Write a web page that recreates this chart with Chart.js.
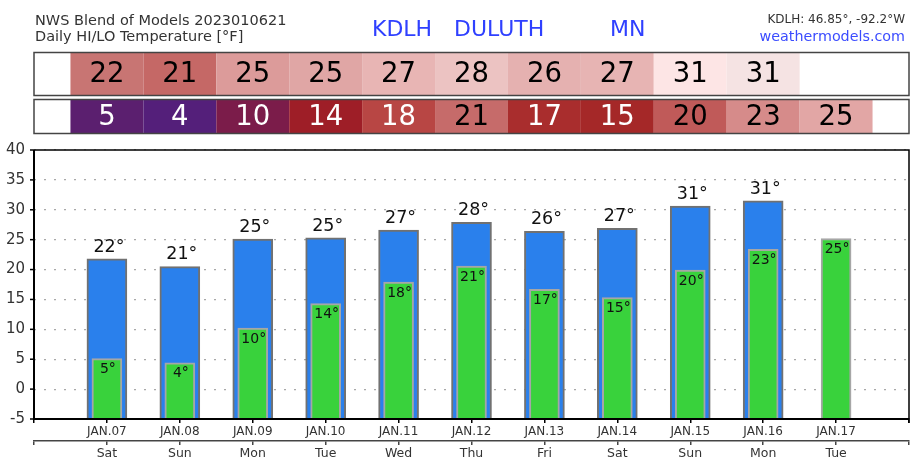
<!DOCTYPE html>
<html>
<head>
<meta charset="utf-8">
<title>NWS Blend of Models - KDLH</title>
<script src="https://cdn.jsdelivr.net/npm/chart.js@4"></script>
<style>
  body { margin: 0; background: #fff; }
  #contenedor { position: relative; width: 919px; height: 466px; font-family: "DejaVu Sans", sans-serif; }
  canvas { position: absolute; left: 0; top: 0; }
  .texto { position: absolute; white-space: nowrap; line-height: 1.164; }
</style>
</head>
<body>
<div id="contenedor">
  <canvas id="graficoTemp" width="919" height="466"></canvas>
  <div class="texto" style="left:35px;top:12px;font-size:14.5px;color:#333">NWS Blend of Models 2023010621</div>
  <div class="texto" style="left:35px;top:28px;font-size:14.5px;color:#333">Daily HI/LO Temperature [°F]</div>
  <div class="texto" style="left:372px;top:15.5px;font-size:22px;color:#2f40ff">KDLH</div>
  <div class="texto" style="left:454px;top:15.5px;font-size:22px;color:#2f40ff">DULUTH</div>
  <div class="texto" style="left:610px;top:15.5px;font-size:22px;color:#2f40ff">MN</div>
  <div class="texto" style="right:14px;top:12.5px;font-size:12px;color:#333">KDLH: 46.85°, -92.2°W</div>
  <div class="texto" style="right:14px;top:27.5px;font-size:14.3px;color:#3b4cff">weathermodels.com</div>
</div>
<script>
// Datos
const fechas = ['JAN.07', 'JAN.08', 'JAN.09', 'JAN.10', 'JAN.11', 'JAN.12', 'JAN.13', 'JAN.14', 'JAN.15', 'JAN.16', 'JAN.17'];
const dias = ['Sat', 'Sun', 'Mon', 'Tue', 'Wed', 'Thu', 'Fri', 'Sat', 'Sun', 'Mon', 'Tue'];

// Alturas de las barras (valores sin redondear)
const maximas = [21.8, 20.5, 25.1, 25.3, 26.6, 27.9, 26.4, 26.9, 30.6, 31.5, null];
const minimas = [5.1, 4.4, 10.2, 14.3, 17.9, 20.6, 16.7, 15.3, 19.9, 23.4, 25.2];

// Valores redondeados que se muestran en la tabla y en las etiquetas
const etiquetasMax = [22, 21, 25, 25, 27, 28, 26, 27, 31, 31, null];
const etiquetasMin = [5, 4, 10, 14, 18, 21, 17, 15, 20, 23, 25];

// Colores de las celdas de la tabla
const coloresMax = ['#c87573', '#c56866', '#dc9b9a', '#e0a6a5', '#e8b5b4', '#ecc3c2', '#e5b1b0', '#e7b4b3', '#fde5e5', '#f5e3e3', null];
const coloresMin = ['#5b1f6f', '#541f7a', '#7b1c4a', '#9e1e27', '#b84644', '#c66b6a', '#a92d2d', '#a52828', '#c05a59', '#d68b8a', '#e2a6a5'];
const textoMin = ['#fff', '#fff', '#fff', '#fff', '#fff', '#000', '#fff', '#fff', '#000', '#000', '#000'];

const fuente = '"DejaVu Sans", sans-serif';

// Se deja un hueco vacío a cada lado del eje
const conBordes = arr => [null, ...arr, null];
const conBordesTexto = arr => ['', ...arr, ''];

// Tabla de colores HI/LO alineada con el eje x
const tablaColores = {
  id: 'tablaColores',
  afterDraw(chart) {
    const { ctx, scales: { x }, chartArea } = chart;
    const mitad = (x.getPixelForValue(1) - x.getPixelForValue(0)) / 2;
    const filas = [
      { y: 52.5, h: 43, valores: etiquetasMax, fondos: coloresMax, textos: null },
      { y: 99.5, h: 34, valores: etiquetasMin, fondos: coloresMin, textos: textoMin }
    ];
    ctx.save();
    filas.forEach(fila => {
      fila.valores.forEach((v, i) => {
        if (v === null) return;
        const cx = x.getPixelForValue(i + 1);
        ctx.fillStyle = fila.fondos[i];
        ctx.fillRect(cx - mitad, fila.y, mitad * 2, fila.h);
        ctx.fillStyle = fila.textos ? fila.textos[i] : '#000';
        ctx.font = '27.5px ' + fuente;
        ctx.textAlign = 'center';
        ctx.textBaseline = 'middle';
        ctx.fillText(String(v), cx, fila.y + fila.h / 2 + 1);
      });
      ctx.strokeStyle = '#444';
      ctx.lineWidth = 1.5;
      ctx.strokeRect(chartArea.left, fila.y, chartArea.right - chartArea.left, fila.h);
    });
    ctx.restore();
  }
};

// Marco del área del gráfico y marcas del eje y
const marco = {
  id: 'marco',
  afterDraw(chart) {
    const { ctx, chartArea: a, scales: { y } } = chart;
    ctx.save();
    ctx.strokeStyle = '#000';
    ctx.lineWidth = 1.5;
    ctx.beginPath();
    ctx.moveTo(a.left, a.top);
    ctx.lineTo(a.right, a.top);
    ctx.lineTo(a.right, a.bottom + 4);
    ctx.stroke();
    ctx.lineWidth = 2;
    ctx.beginPath();
    ctx.moveTo(a.left, a.top);
    ctx.lineTo(a.left, a.bottom);
    ctx.lineTo(a.right, a.bottom);
    ctx.stroke();
    ctx.lineWidth = 1.5;
    y.ticks.forEach(t => {
      const py = y.getPixelForValue(t.value);
      ctx.beginPath();
      ctx.moveTo(a.left - 4, py);
      ctx.lineTo(a.left, py);
      ctx.stroke();
    });
    ctx.restore();
  }
};

// Etiquetas de temperatura sobre y dentro de las barras
const etiquetas = {
  id: 'etiquetas',
  afterDatasetsDraw(chart) {
    const { ctx } = chart;
    const barrasMin = chart.getDatasetMeta(0).data;
    const barrasMax = chart.getDatasetMeta(1).data;
    ctx.save();
    ctx.textAlign = 'center';
    ctx.fillStyle = '#111';
    etiquetasMax.forEach((v, i) => {
      const barra = barrasMax[i + 1];
      if (v === null || !barra) return;
      ctx.font = '17.5px ' + fuente;
      ctx.textBaseline = 'bottom';
      ctx.fillText(v + '°', barra.x + 2, barra.y - 3);
    });
    etiquetasMin.forEach((v, i) => {
      const barra = barrasMin[i + 1];
      if (v === null || !barra) return;
      ctx.font = '14px ' + fuente;
      ctx.textBaseline = 'top';
      ctx.fillText(v + '°', barra.x + 1, barra.y + 4);
    });
    ctx.restore();
  }
};

const ctx = document.getElementById('graficoTemp').getContext('2d');
new Chart(ctx, {
  type: 'bar',
  data: {
    labels: conBordesTexto(fechas),
    datasets: [
      {
        label: 'LO',
        data: conBordes(minimas),
        backgroundColor: '#39d23c',
        borderColor: '#a6a6a6',
        borderWidth: 2,
        barThickness: 30,
        base: -5,
        grouped: false,
        order: 0
      },
      {
        label: 'HI',
        data: conBordes(maximas),
        backgroundColor: '#2a80ec',
        borderColor: '#717171',
        borderWidth: 2,
        barThickness: 40,
        base: -5,
        grouped: false,
        order: 1
      }
    ]
  },
  options: {
    responsive: false,
    animation: false,
    layout: { padding: { top: 150, right: 10, left: 0, bottom: 0 } },
    plugins: { legend: { display: false }, tooltip: { enabled: false } },
    scales: {
      x: {
        type: 'category',
        offset: false,
        grid: { offset: false, drawOnChartArea: false, tickLength: 4, color: '#000', lineWidth: 1.5 },
        border: { color: '#000', width: 2 },
        ticks: { font: { family: fuente, size: 12 }, color: '#333', padding: 2, autoSkip: false, maxRotation: 0 },
        afterFit: s => { s.height = 22; }
      },
      x2: {
        type: 'category',
        labels: conBordesTexto(dias),
        position: 'bottom',
        offset: false,
        weight: 1,
        grid: { offset: false, drawOnChartArea: false, tickLength: 4, color: '#444', lineWidth: 1.5 },
        border: { color: '#444', width: 1.5 },
        ticks: { font: { family: fuente, size: 12.5 }, color: '#333', padding: 1, autoSkip: false, maxRotation: 0 },
        afterFit: s => { s.height = 25; }
      },
      y: {
        min: -5,
        max: 40,
        ticks: { stepSize: 5, font: { family: fuente, size: 15 }, color: '#333', padding: 9 },
        grid: { drawTicks: false, color: '#a8a8a8', lineWidth: 1.2 },
        border: { display: false, dash: [2, 8] },
        afterFit: s => { s.width = 34; }
      }
    }
  },
  plugins: [tablaColores, marco, etiquetas]
});
</script>
</body>
</html>
